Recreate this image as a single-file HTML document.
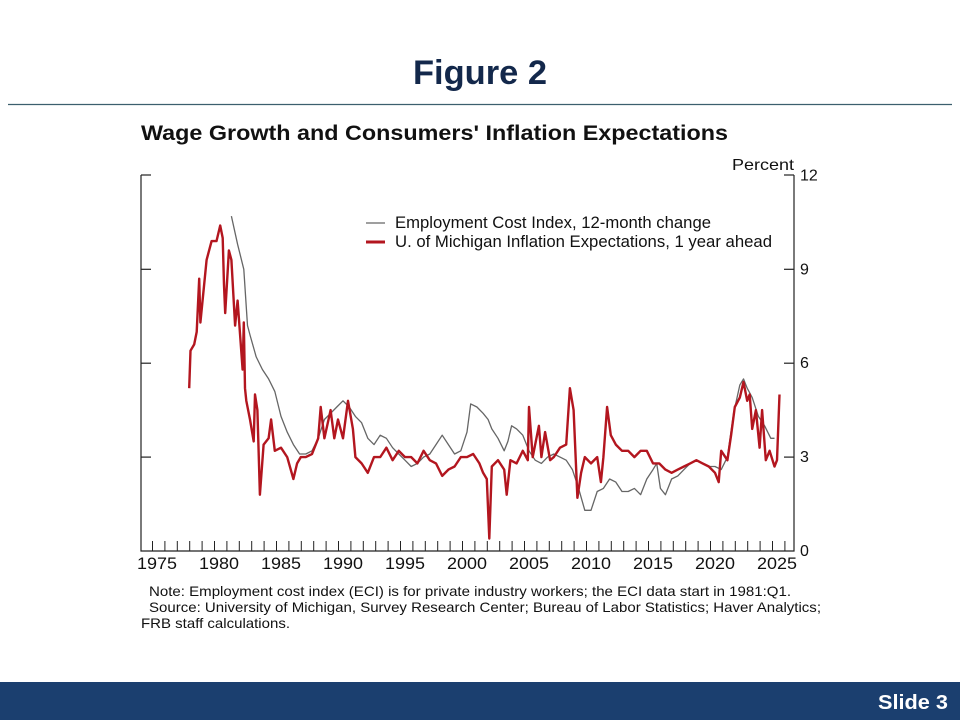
<!DOCTYPE html>
<html><head><meta charset="utf-8"><style>
html,body{margin:0;padding:0;background:#fff;}
svg{display:block;font-family:"Liberation Sans",Arial,sans-serif;}
</style></head><body>
<svg id="svg" width="960" height="720" viewBox="0 0 960 720">
<text x="413" y="84" font-size="34" font-weight="bold" fill="#13284b" textLength="134" lengthAdjust="spacingAndGlyphs">Figure 2</text>
<line x1="8" y1="104.5" x2="952" y2="104.5" stroke="#3c5f6e" stroke-width="1.2"/>
<text x="141" y="140" font-size="21" font-weight="bold" fill="#111" textLength="587" lengthAdjust="spacingAndGlyphs">Wage Growth and Consumers' Inflation Expectations</text>
<text x="794" y="170" text-anchor="end" font-size="16" fill="#111" textLength="62" lengthAdjust="spacingAndGlyphs">Percent</text>
<g id="plot"></g>
<g>
<line x1="366" y1="223" x2="385" y2="223" stroke="#666" stroke-width="1.3"/>
<text x="395" y="228" font-size="16.5" fill="#111" textLength="316" lengthAdjust="spacingAndGlyphs">Employment Cost Index, 12-month change</text>
<line x1="366" y1="242" x2="385" y2="242" stroke="#b3161f" stroke-width="3"/>
<text x="395" y="247" font-size="16.5" fill="#111" textLength="377" lengthAdjust="spacingAndGlyphs">U. of Michigan Inflation Expectations, 1 year ahead</text>
</g>
<g font-size="14" fill="#111">
<text x="149" y="596" textLength="642" lengthAdjust="spacingAndGlyphs">Note: Employment cost index (ECI) is for private industry workers; the ECI data start in 1981:Q1.</text>
<text x="149" y="612" textLength="672" lengthAdjust="spacingAndGlyphs">Source: University of Michigan, Survey Research Center; Bureau of Labor Statistics; Haver Analytics;</text>
<text x="141" y="628" textLength="149" lengthAdjust="spacingAndGlyphs">FRB staff calculations.</text>
</g>
<rect x="0" y="682" width="960" height="38" fill="#1b3f6f"/>
<text x="948" y="709" text-anchor="end" font-size="20" font-weight="bold" fill="#fff" textLength="70" lengthAdjust="spacingAndGlyphs">Slide 3</text>
</svg>
<script>
const yTicks=[0,3,6,9,12];
const xLabels=[1975,1980,1985,1990,1995,2000,2005,2010,2015,2020,2025];
const michDates=[1977.6,1977.7,1978.0,1978.2,1978.4,1978.5,1979.0,1979.4,1979.8,1980.1,1980.3,1980.4,1980.5,1980.8,1981.0,1981.3,1981.5,1981.9,1982.0,1982.1,1982.2,1982.5,1982.8,1982.9,1983.1,1983.3,1983.6,1984.0,1984.2,1984.5,1985.0,1985.5,1986.0,1986.3,1986.6,1987.0,1987.5,1988.0,1988.2,1988.5,1989.0,1989.3,1989.6,1990.0,1990.4,1990.8,1991.0,1991.5,1992.0,1992.5,1993.0,1993.5,1994.0,1994.5,1995.0,1995.5,1996.0,1996.5,1997.0,1997.5,1998.0,1998.5,1999.0,1999.5,2000.0,2000.5,2001.0,2001.3,2001.6,2001.8,2002.0,2002.5,2003.0,2003.2,2003.5,2004.0,2004.5,2004.9,2005.0,2005.3,2005.8,2006.0,2006.3,2006.7,2007.0,2007.5,2008.0,2008.3,2008.6,2008.9,2009.2,2009.5,2010.0,2010.5,2010.8,2011.0,2011.3,2011.6,2012.0,2012.5,2013.0,2013.5,2014.0,2014.5,2015.0,2015.5,2016.0,2016.5,2017.0,2017.5,2018.0,2018.5,2019.0,2019.5,2020.0,2020.3,2020.5,2021.0,2021.3,2021.6,2022.0,2022.3,2022.6,2022.8,2023.0,2023.3,2023.6,2023.8,2024.1,2024.4,2024.8,2025.0,2025.2];
const michValues=[5.2,6.4,6.6,7.0,8.7,7.3,9.3,9.9,9.9,10.4,10.0,8.5,7.6,9.6,9.3,7.2,8.0,5.8,7.3,5.2,4.8,4.2,3.5,5.0,4.5,1.8,3.4,3.6,4.2,3.2,3.3,3.0,2.3,2.8,3.0,3.0,3.1,3.6,4.6,3.6,4.5,3.6,4.2,3.6,4.8,3.9,3.0,2.8,2.5,3.0,3.0,3.3,2.9,3.2,3.0,3.0,2.8,3.2,2.9,2.8,2.4,2.6,2.7,3.0,3.0,3.1,2.8,2.5,2.3,0.4,2.7,2.9,2.6,1.8,2.9,2.8,3.2,2.9,4.6,3.0,4.0,3.0,3.8,2.9,3.0,3.3,3.4,5.2,4.5,1.7,2.5,3.0,2.8,3.0,2.2,3.0,4.6,3.7,3.4,3.2,3.2,3.0,3.2,3.2,2.8,2.8,2.6,2.5,2.6,2.7,2.8,2.9,2.8,2.7,2.5,2.2,3.2,2.9,3.7,4.6,4.9,5.4,4.8,5.0,3.9,4.5,3.3,4.5,2.9,3.2,2.7,2.9,5.0];
const eciDates=[1981.0,1981.5,1982.0,1982.3,1982.5,1983.0,1983.5,1984.0,1984.5,1985.0,1985.5,1986.0,1986.5,1987.0,1987.5,1988.0,1988.5,1989.0,1989.5,1990.0,1990.5,1991.0,1991.5,1992.0,1992.5,1993.0,1993.5,1994.0,1994.5,1995.0,1995.5,1996.0,1996.5,1997.0,1997.5,1998.0,1998.5,1999.0,1999.5,2000.0,2000.3,2000.8,2001.3,2001.7,2002.0,2002.5,2003.0,2003.3,2003.6,2004.0,2004.5,2005.0,2005.5,2006.0,2006.5,2007.0,2007.5,2008.0,2008.5,2009.0,2009.5,2010.0,2010.5,2011.0,2011.5,2012.0,2012.5,2013.0,2013.5,2014.0,2014.5,2015.0,2015.3,2015.6,2016.0,2016.5,2017.0,2017.5,2018.0,2018.5,2019.0,2019.5,2020.0,2020.5,2021.0,2021.5,2022.0,2022.3,2022.6,2023.0,2023.5,2024.0,2024.5,2024.8];
const eciValues=[10.7,9.8,9.0,7.2,6.9,6.2,5.8,5.5,5.1,4.3,3.8,3.4,3.1,3.1,3.2,3.6,4.2,4.4,4.6,4.8,4.6,4.3,4.1,3.6,3.4,3.7,3.6,3.3,3.1,2.9,2.7,2.8,3.0,3.1,3.4,3.7,3.4,3.1,3.2,3.8,4.7,4.6,4.4,4.2,3.9,3.6,3.2,3.5,4.0,3.9,3.7,3.2,2.9,2.8,3.0,3.1,3.0,2.9,2.6,2.0,1.3,1.3,1.9,2.0,2.3,2.2,1.9,1.9,2.0,1.8,2.3,2.6,2.8,2.0,1.8,2.3,2.4,2.6,2.8,2.9,2.8,2.7,2.7,2.6,3.0,4.4,5.3,5.5,5.2,4.9,4.3,4.0,3.6,3.6];

const NS='http://www.w3.org/2000/svg';
const L=141,R=794,T=175,B=551;
function xS(t){return 157+(t-1975)*12.4;}
function yS(v){return 551-31.3*v;}
const plot=document.getElementById('plot');
function mk(tag,attrs){const e=document.createElementNS(NS,tag);for(const k in attrs)e.setAttribute(k,attrs[k]);plot.appendChild(e);return e;}

let f=mk('path',{d:`M${L},${T}V${B}H${R}V${T}`,fill:'none',stroke:'#222','stroke-width':1.2});


mk('line',{x1:L,y1:T,x2:L+10,y2:T,stroke:'#222','stroke-width':1.2});
mk('line',{x1:R-10,y1:T,x2:R,y2:T,stroke:'#222','stroke-width':1.2});
yTicks.forEach(v=>{
  if(v>0&&v<12){
    let a=mk('line',{x1:L,y1:yS(v),x2:L+10,y2:yS(v),stroke:'#222','stroke-width':1.2});
    
    
    let b=mk('line',{x1:R-10,y1:yS(v),x2:R,y2:yS(v),stroke:'#222','stroke-width':1.2});
    
    
  }
  let t=mk('text',{x:800,y:yS(v)+5,'font-size':16,fill:'#111'});
  t.textContent=v;
  
  
});
for(let yr=1975;yr<=2026;yr++){
  let tk=mk('line',{x1:xS(yr)-4.5,y1:B,x2:xS(yr)-4.5,y2:B-10,stroke:'#222','stroke-width':1});
  
  
}
xLabels.forEach(yr=>{
  let t=mk('text',{x:xS(yr),y:569,'font-size':16.5,fill:'#111','text-anchor':'middle',textLength:40,lengthAdjust:'spacingAndGlyphs'});
  t.textContent=yr;
  
  
});
function pathFrom(ds,vs){return ds.map((d,i)=>(i?'L':'M')+xS(d).toFixed(1)+','+yS(vs[i]).toFixed(1)).join('');}
let e=mk('path',{d:pathFrom(eciDates,eciValues),fill:'none',stroke:'#666','stroke-width':1.3,'stroke-linejoin':'round'});


let m=mk('path',{d:pathFrom(michDates,michValues),fill:'none',stroke:'#b3161f','stroke-width':2.4,'stroke-linejoin':'round'});


</script>
</body></html>
